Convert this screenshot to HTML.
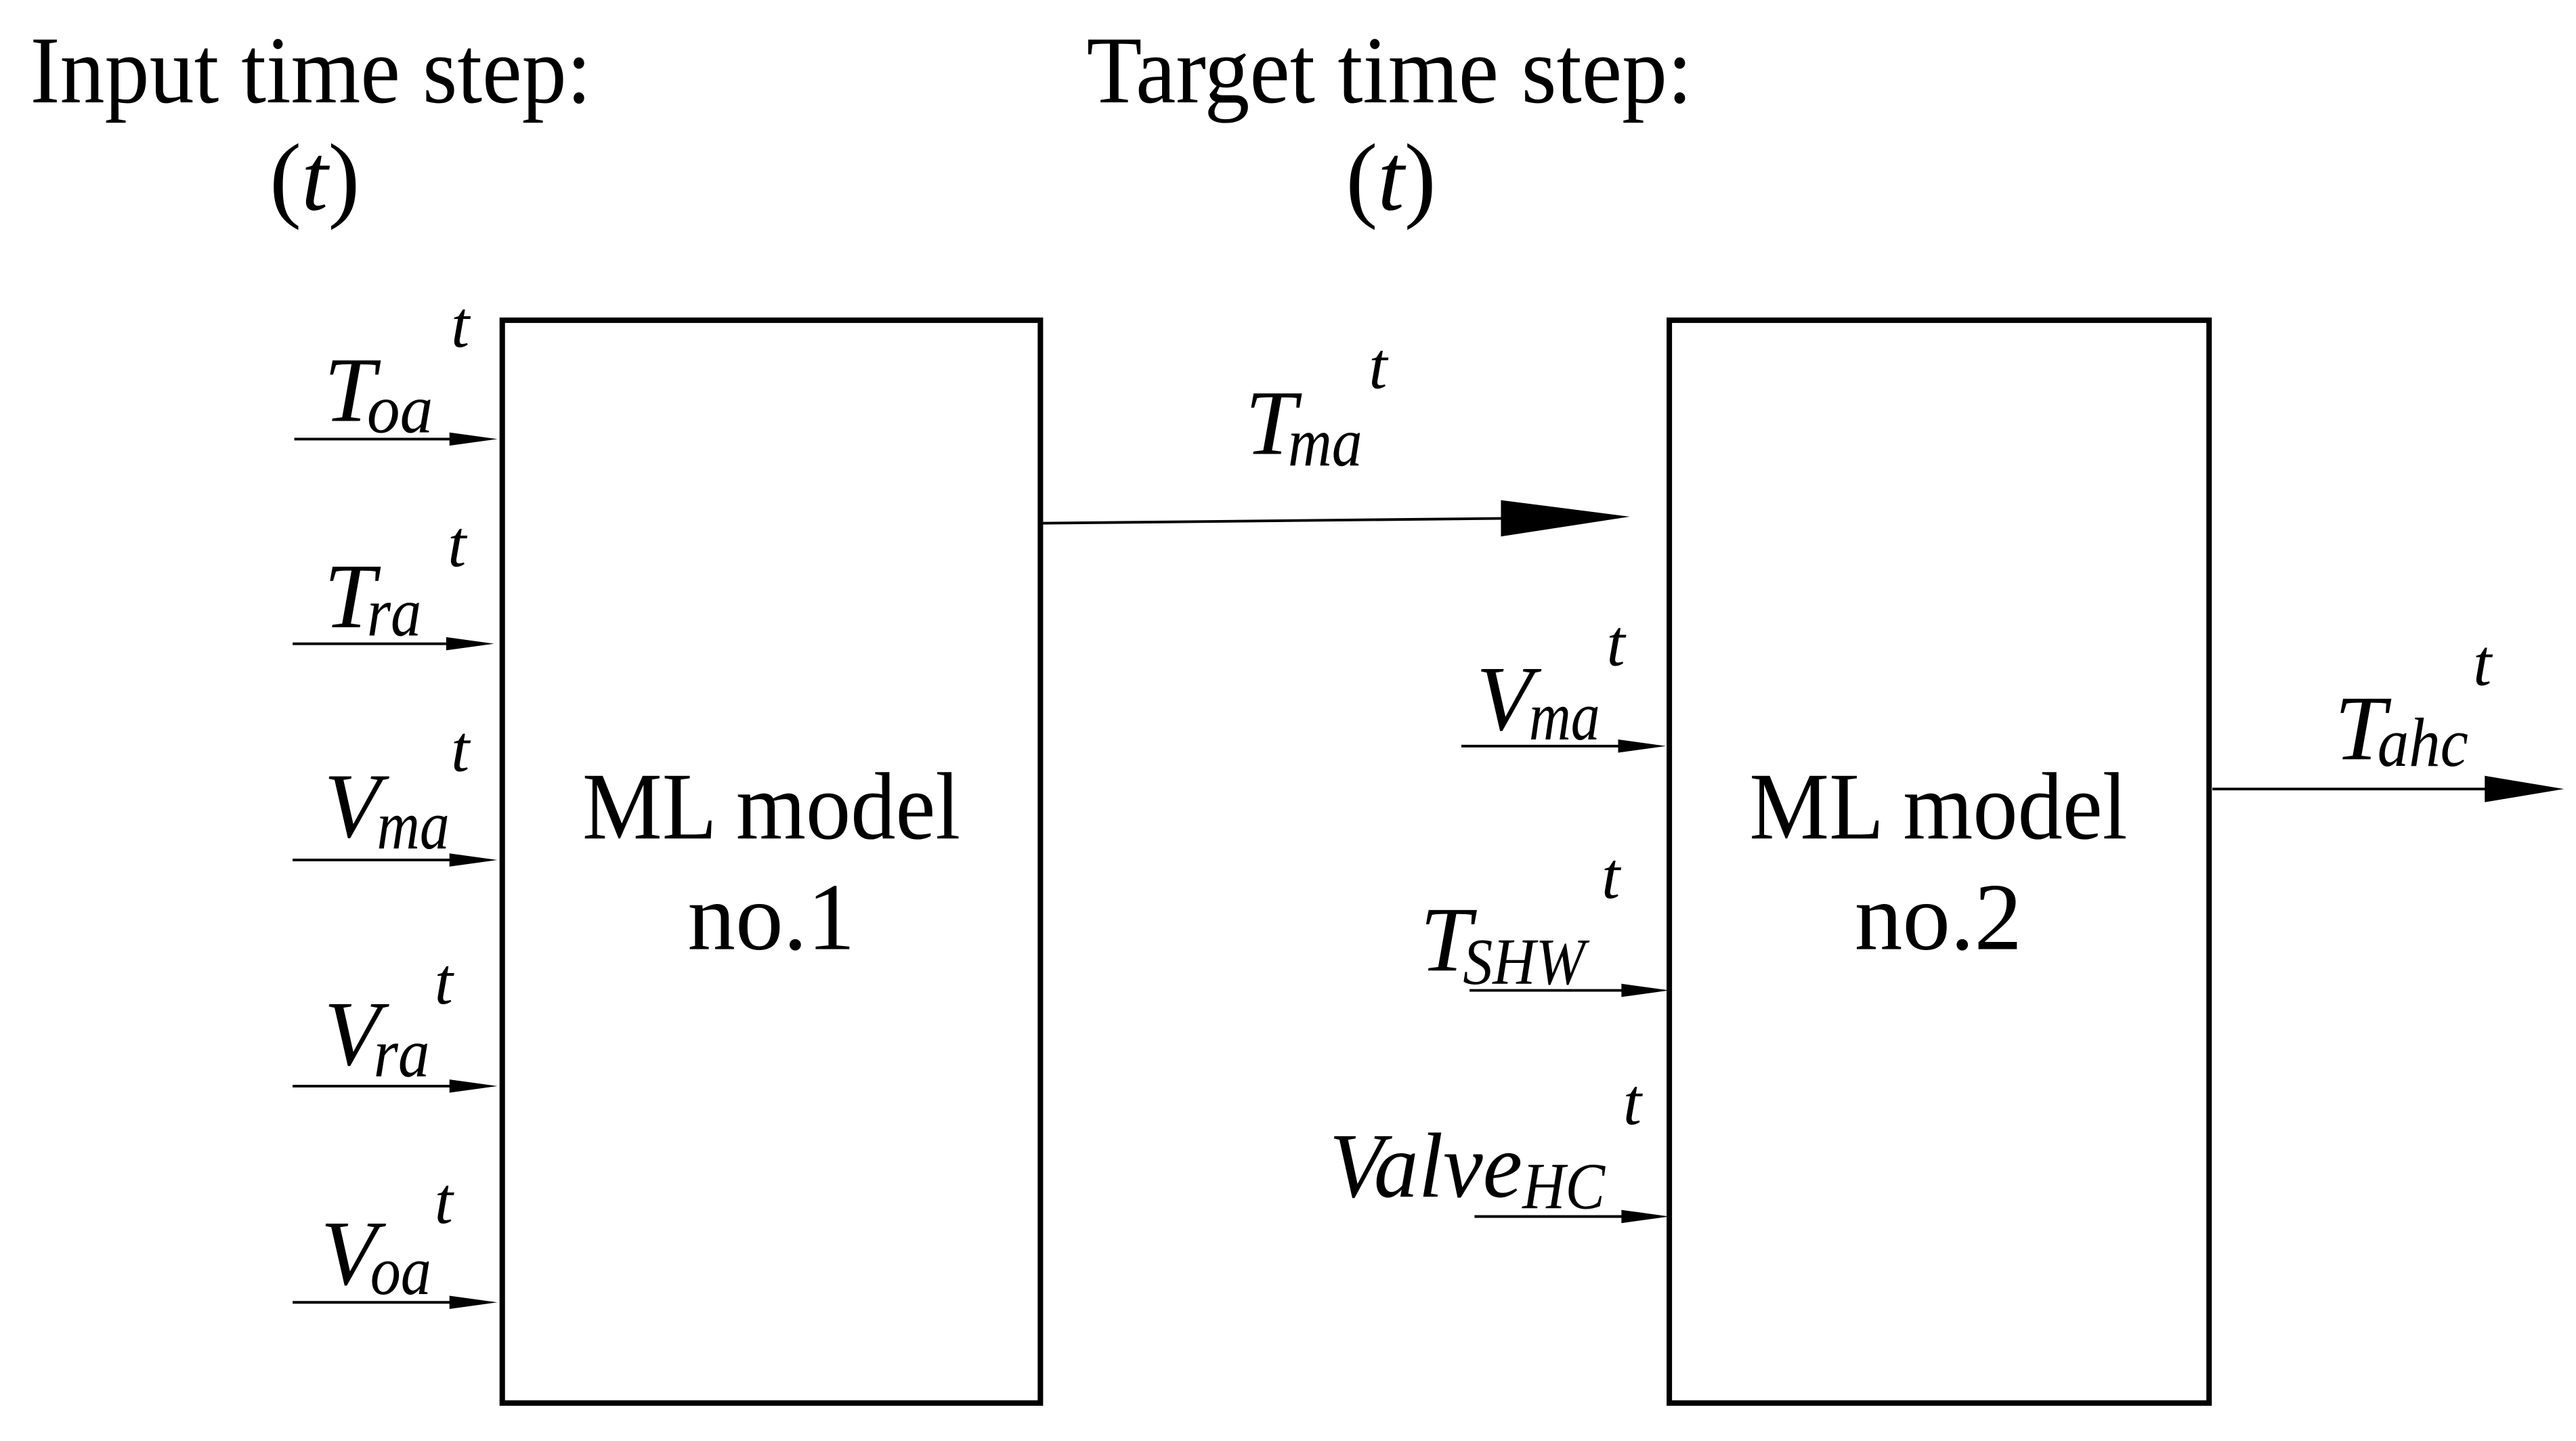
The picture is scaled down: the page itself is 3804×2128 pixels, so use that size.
<!DOCTYPE html>
<html><head><meta charset="utf-8"><style>html,body{margin:0;padding:0;background:#fff}svg{display:block}</style></head>
<body>
<svg width="3804" height="2128" viewBox="0 0 1560 873" xmlns="http://www.w3.org/2000/svg" font-family="Liberation Serif, serif">
<rect width="1560" height="873" fill="#fff"/>
<g font-size="58" fill="#000">
<text x="18" y="62" textLength="340" lengthAdjust="spacingAndGlyphs">Input time step:</text>
<text x="163" y="127">(<tspan font-style="italic">t</tspan>)</text>
<text x="658" y="62" textLength="367" lengthAdjust="spacingAndGlyphs">Target time step:</text>
<text x="815" y="127">(<tspan font-style="italic">t</tspan>)</text>
<text x="467" y="508" text-anchor="middle" textLength="229" lengthAdjust="spacingAndGlyphs">ML model</text>
<text x="467" y="575" text-anchor="middle">no.1</text>
<text x="1174" y="508" text-anchor="middle" textLength="229" lengthAdjust="spacingAndGlyphs">ML model</text>
<text x="1174" y="575" text-anchor="middle">no.2</text>
</g>
<g fill="none" stroke="#000" stroke-width="3.3">
<rect x="304" y="194" width="326" height="656"/>
<rect x="1011" y="194" width="327" height="656"/>
</g>
<g stroke="#000" stroke-width="1.6">
<line x1="178" y1="266" x2="280" y2="266"/>
<line x1="177" y1="390" x2="278" y2="390"/>
<line x1="177" y1="521" x2="280" y2="521"/>
<line x1="177" y1="658" x2="280" y2="658"/>
<line x1="177" y1="789" x2="280" y2="789"/>
<line x1="630" y1="317" x2="915" y2="314"/>
<line x1="885" y1="452" x2="988" y2="452"/>
<line x1="890" y1="600" x2="990" y2="600"/>
<line x1="893" y1="737" x2="990" y2="737"/>
<line x1="1340" y1="478" x2="1510" y2="478"/>
</g>
<g fill="#000">
<polygon points="272,262 301,266 272,270"/>
<polygon points="270,386 299,390 270,394"/>
<polygon points="272,517 301,521 272,525"/>
<polygon points="272,654 301,658 272,662"/>
<polygon points="272,785 301,789 272,793"/>
<polygon points="909,303 987,313 909,325"/>
<polygon points="980,448 1009,452 980,456"/>
<polygon points="982,596 1011,600 982,604"/>
<polygon points="982,733 1011,737 982,741"/>
<polygon points="1505,470 1553,478 1505,486"/>
</g>
<g font-style="italic" fill="#000">
<text x="196" y="255" font-size="56">T</text><text x="222" y="262" font-size="42" textLength="40" lengthAdjust="spacingAndGlyphs">oa</text><text x="273" y="210" font-size="40">t</text>
<text x="196" y="380" font-size="56">T</text><text x="222" y="385" font-size="42" textLength="33" lengthAdjust="spacingAndGlyphs">ra</text><text x="271" y="343" font-size="40">t</text>
<text x="196" y="507" font-size="56">V</text><text x="228" y="514" font-size="42" textLength="44" lengthAdjust="spacingAndGlyphs">ma</text><text x="273" y="467" font-size="40">t</text>
<text x="196" y="645" font-size="56">V</text><text x="226" y="652" font-size="42" textLength="34" lengthAdjust="spacingAndGlyphs">ra</text><text x="263" y="608" font-size="40">t</text>
<text x="194" y="778" font-size="56">V</text><text x="224" y="784" font-size="42" textLength="37" lengthAdjust="spacingAndGlyphs">oa</text><text x="263" y="741" font-size="40">t</text>
<text x="754" y="275" font-size="56">T</text><text x="780" y="282" font-size="42" textLength="45" lengthAdjust="spacingAndGlyphs">ma</text><text x="829" y="235" font-size="40">t</text>
<text x="894" y="442" font-size="56">V</text><text x="926" y="448" font-size="42" textLength="43" lengthAdjust="spacingAndGlyphs">ma</text><text x="973" y="403" font-size="40">t</text>
<text x="860" y="588" font-size="56">T</text><text x="886" y="596" font-size="40" textLength="74" lengthAdjust="spacingAndGlyphs">SHW</text><text x="970" y="544" font-size="40">t</text>
<text x="805" y="725" font-size="56" textLength="117" lengthAdjust="spacingAndGlyphs">Valve</text><text x="922" y="732" font-size="40" textLength="50" lengthAdjust="spacingAndGlyphs">HC</text><text x="983" y="681" font-size="40">t</text>
<text x="1414" y="460" font-size="56">T</text><text x="1440" y="464" font-size="42" textLength="55" lengthAdjust="spacingAndGlyphs">ahc</text><text x="1498" y="415" font-size="40">t</text>
</g>
</svg>
</body></html>
